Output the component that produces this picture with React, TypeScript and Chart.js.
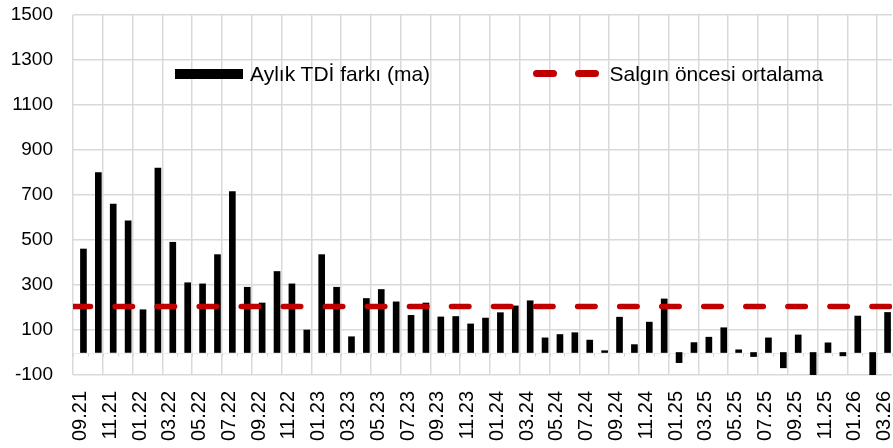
import React, { useEffect, useRef } from 'react';
import { Chart, registerables } from 'chart.js';

Chart.register(...registerables);

const MONTHS = [
  '09.21', '10.21', '11.21', '12.21',
  '01.22', '02.22', '03.22', '04.22', '05.22', '06.22', '07.22', '08.22', '09.22', '10.22', '11.22', '12.22',
  '01.23', '02.23', '03.23', '04.23', '05.23', '06.23', '07.23', '08.23', '09.23', '10.23', '11.23', '12.23',
  '01.24', '02.24', '03.24', '04.24', '05.24', '06.24', '07.24', '08.24', '09.24', '10.24', '11.24', '12.24',
  '01.25', '02.25', '03.25', '04.25', '05.25', '06.25', '07.25', '08.25', '09.25', '10.25', '11.25', '12.25',
  '01.26', '02.26', '03.26',
];

const TDI_DIFF = [
  460, 800, 660, 585,
  190, 820, 490, 310, 305, 435, 715, 290, 220, 360, 305, 100,
  435, 290, 70, 240, 280, 225, 165, 220, 158, 160, 127, 153,
  177, 207, 230, 65, 80, 88, 55, 8, 157, 35, 135, 238,
  -45, 44, 68, 110, 12, -18, 65, -68, 78, -110, 43, -15,
  162, -110, 178,
];

const PRE_PANDEMIC_AVG = 204;

const Y_MIN = -100;
const Y_MAX = 1500;
const Y_STEP = 200;

const BAR_LABEL = 'Aylık TDİ farkı (ma)';
const LINE_LABEL = 'Salgın öncesi ortalama';

const FONT = '"Liberation Sans", Arial, Helvetica, sans-serif';
const GRID = '#d9d9d9';
const RED = '#c00000';

export default function App() {
  const ref = useRef<HTMLCanvasElement>(null);

  useEffect(() => {
    if (!ref.current) return;
    const zeroAxis = {
      id: 'zeroAxis',
      beforeDatasetsDraw(chart: any) {
        const { ctx, chartArea, scales } = chart;
        const y = Math.round(scales.y.getPixelForValue(0)) + 0.5;
        ctx.save();
        ctx.strokeStyle = '#ececec';
        ctx.lineWidth = 1;
        ctx.beginPath();
        ctx.moveTo(chartArea.left, y);
        ctx.lineTo(chartArea.right, y);
        ctx.stroke();
        ctx.strokeStyle = '#d4d4d4';
        const n = MONTHS.length;
        const w = (chartArea.right - chartArea.left) / n;
        for (let i = 0; i <= n; i++) {
          const px = Math.round(chartArea.left + i * w) + 0.5;
          ctx.beginPath();
          ctx.moveTo(px, y);
          ctx.lineTo(px, y + 3);
          ctx.stroke();
        }
        ctx.restore();
      },
    };

    const chart = new Chart(ref.current, {
      type: 'bar',
      data: {
        labels: MONTHS,
        datasets: [
          {
            type: 'line',
            label: LINE_LABEL,
            data: [
              { x: 0, y: PRE_PANDEMIC_AVG },
              { x: 1, y: PRE_PANDEMIC_AVG },
            ],
            xAxisID: 'x2',
            borderColor: RED,
            borderWidth: 5.5,
            borderDash: [17.5, 24.55],
            borderCapStyle: 'round',
            pointRadius: 0,
            order: 0,
          } as any,
          {
            type: 'bar',
            label: BAR_LABEL,
            data: TDI_DIFF,
            xAxisID: 'x',
            backgroundColor: '#000000',
            barThickness: 6,
            order: 1,
          },
        ],
      },
      options: {
        responsive: false,
        animation: false,
        layout: { padding: { top: 15, right: 1, left: 0, bottom: 0 } },
        plugins: {
          legend: { display: false },
          tooltip: { enabled: false },
        },
        scales: {
          x: {
            type: 'category',
            offset: true,
            grid: {
              offset: true,
              color: (c: any) => (c.index % 2 === 0 ? GRID : 'rgba(0,0,0,0)'),
              lineWidth: 1.5,
              drawTicks: false,
            },
            border: { display: false },
            ticks: {
              autoSkip: false,
              minRotation: 90,
              maxRotation: 90,
              padding: 16,
              color: '#000',
              font: { family: FONT, size: 20 },
              callback: (_v: any, i: number) => (i % 2 === 0 ? MONTHS[i] : ''),
            },
            afterFit: (s: any) => {
              s.height = 73;
              s.paddingLeft = 0;
              s.paddingRight = 0;
            },
          },
          x2: {
            type: 'linear',
            display: false,
            offset: false,
            grid: { offset: false },
            min: 0,
            max: 1,
          },
          y: {
            min: Y_MIN,
            max: Y_MAX,
            ticks: {
              stepSize: Y_STEP,
              padding: 20,
              color: '#000',
              font: { family: FONT, size: 19 },
              callback: (v: any) => String(v),
            },
            grid: { color: GRID, lineWidth: 1.5, drawTicks: false },
            border: { display: false },
            afterFit: (s: any) => {
              s.width = 73;
              s.paddingTop = 0;
              s.paddingBottom = 0;
            },
          },
        },
      } as any,
      plugins: [zeroAxis],
    });
    return () => chart.destroy();
  }, []);

  const textStyle: React.CSSProperties = {
    position: 'absolute',
    top: 73,
    transform: 'translateY(-50%)',
    fontFamily: FONT,
    fontSize: 21,
    color: '#000',
    whiteSpace: 'nowrap',
    lineHeight: 1,
  };

  return (
    <div style={{ position: 'absolute', left: 0, top: 0, width: 893, height: 448, background: '#fff' }}>
      <canvas ref={ref} width={893} height={448} style={{ display: 'block' }} />
      <div style={{ position: 'absolute', left: 175, top: 69, width: 68, height: 10, background: '#000' }} />
      <div style={{ ...textStyle, left: 250 }}>{BAR_LABEL}</div>
      <div style={{ position: 'absolute', left: 533, top: 70, width: 23.5, height: 7, borderRadius: 3.5, background: RED }} />
      <div style={{ position: 'absolute', left: 574.5, top: 70, width: 24, height: 7, borderRadius: 3.5, background: RED }} />
      <div style={{ ...textStyle, left: 609.5 }}>{LINE_LABEL}</div>
    </div>
  );
}
